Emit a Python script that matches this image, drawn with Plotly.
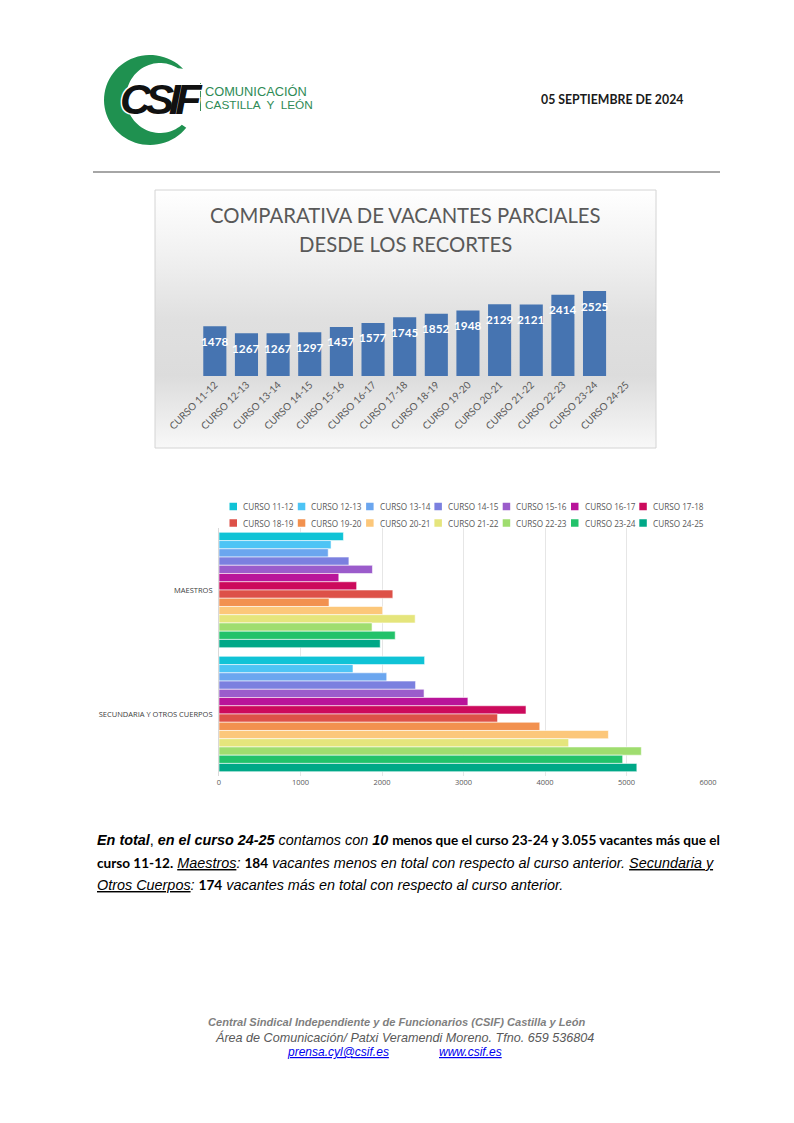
import numpy as np
import plotly.graph_objects as go

# ---------------- data ----------------
courses = ["CURSO 11-12", "CURSO 12-13", "CURSO 13-14", "CURSO 14-15", "CURSO 15-16",
           "CURSO 16-17", "CURSO 17-18", "CURSO 18-19", "CURSO 19-20", "CURSO 20-21",
           "CURSO 21-22", "CURSO 22-23", "CURSO 23-24", "CURSO 24-25"]
partial_vacancies = [1478, 1267, 1267, 1297, 1457, 1577, 1745, 1852, 1948, 2129, 2121, 2414, 2525, None]

groups = ["MAESTROS", "SECUNDARIA Y OTROS CUERPOS"]
maestros = [1527, 1375, 1340, 1594, 1883, 1470, 1689, 2133, 1350, 2008, 2407, 1878, 2162, 1978]
secundaria = [2523, 1644, 2058, 2412, 2516, 3054, 3767, 3418, 3936, 4778, 4290, 5182, 4953, 5127]

x_ticks = [0, 1000, 2000, 3000, 4000, 5000, 6000]

series_colors = ["#10c3d6", "#4dc4f5", "#6ba6ef", "#7b80df", "#9b5ccb", "#b9149a", "#cc0a5c",
                 "#dd5148", "#f2914f", "#fcc77a", "#e5e57c", "#9fdd6f", "#22c26a", "#00a887"]

W, H = 794, 1123


def dx(px):
    return px / W


def dy(py):
    return 1 - py / H


fig = go.Figure()

# background of the top chart (page pixel helper axis x/y)
fig.add_trace(go.Scatter(
    x=[155, 656, 656, 155, 155], y=[190, 190, 448, 448, 190],
    mode="lines", fill="toself",
    fillgradient=dict(type="vertical", start=190, stop=448,
                      colorscale=[[0, "#ffffff"], [0.25, "#f1f1f1"], [0.5, "#e0e0e0"],
                                  [0.72, "#dcdcdc"], [0.88, "#ececec"], [1, "#f8f8f8"]]),
    line=dict(color="#d4d4d4", width=1),
    hoverinfo="skip", showlegend=False, xaxis="x", yaxis="y"))

# ---------------- top chart ----------------
fig.add_trace(go.Bar(
    x=courses, y=partial_vacancies, width=0.73,
    marker=dict(color="#4674b1", line=dict(width=0)),
    xaxis="x2", yaxis="y2", showlegend=False, hoverinfo="skip"))

annotations = []
for c, v in zip(courses, partial_vacancies):
    if v is None:
        continue
    annotations.append(dict(
        x=c, y=v, xref="x2", yref="y2", yshift=-15, text=f"<b>{v}</b>", showarrow=False,
        font=dict(family="Lato, Open Sans, sans-serif", size=11.8, color="#ffffff")))

# ---------------- bottom chart ----------------
for i, name in enumerate(courses):
    fig.add_trace(go.Bar(
        y=groups, x=[maestros[i], secundaria[i]], orientation="h", name=name,
        marker=dict(color=series_colors[i], line=dict(color="rgba(255,255,255,0.7)", width=0.8)),
        xaxis="x3", yaxis="y3", showlegend=False, hoverinfo="skip"))

# manual legend (two rows of seven)
shapes = []
for i, name in enumerate(courses):
    row, col = divmod(i, 7)
    x0 = 229.5 + col * 68.3
    yc = 506.5 + row * 16.5
    shapes.append(dict(type="rect", xref="x", yref="y", x0=x0, x1=x0 + 7.5, y0=yc - 3.75, y1=yc + 3.75,
                       fillcolor=series_colors[i], line=dict(width=0)))
    annotations.append(dict(x=x0 + 11.5, y=yc, xref="x", yref="y", text=name, showarrow=False,
                            xanchor="left", yanchor="middle",
                            font=dict(family="Open Sans, sans-serif", size=8.2, color="#595959")))

# ---------------- page decorations ----------------
shapes.append(dict(type="line", xref="x", yref="y", x0=93, x1=720, y0=172, y1=172,
                   line=dict(color="#a6a6a6", width=2)))
shapes.append(dict(type="line", xref="x", yref="y", x0=200.5, x1=200.5, y0=83, y1=111,
                   line=dict(color="#3a8f5a", width=1)))
# green C of the logo
a_out = np.radians(np.linspace(-44, -322, 60))
a_in = np.radians(np.linspace(-310, -58, 60))
ox, oy = 150 + 46 * np.cos(a_out), 100 + 45 * np.sin(a_out)
ix, iy = 160 + 34 * np.cos(a_in), 98 + 35 * np.sin(a_in)
pts = list(zip(ox, oy)) + list(zip(ix, iy))
path = "M " + " L ".join(f"{px:.2f},{py:.2f}" for px, py in pts) + " Z"
shapes.append(dict(type="path", xref="x", yref="y", path=path, fillcolor="#1f9150",
                   line=dict(width=0), layer="above"))

WHITE_HALO = ("-1.2px -1.2px 0 #fff, 1.2px -1.2px 0 #fff, -1.2px 1.2px 0 #fff, 1.2px 1.2px 0 #fff")
annotations += [
    dict(x=118, y=99, xref="x", yref="y", xanchor="left",
         text="<b><i><span style='letter-spacing:-5.5px'>CSIF</span></i></b>", showarrow=False,
         font=dict(family="Liberation Sans, Arial, sans-serif", size=43, color="#111111",
                   shadow=WHITE_HALO)),
    dict(x=203, y=91, xref="x", yref="y", text="COMUNICACIÓN", showarrow=False, xanchor="left",
         font=dict(family="Liberation Sans, Arial, sans-serif", size=12.8, color="#2e8a55")),
    dict(x=203, y=105, xref="x", yref="y", text="CASTILLA  Y  LEÓN", showarrow=False, xanchor="left",
         font=dict(family="Liberation Sans, Arial, sans-serif", size=11.8, color="#2e8a55")),
    dict(x=539, y=99, xref="x", yref="y", text="<b>05 SEPTIEMBRE DE 2024</b>", showarrow=False,
         xanchor="left", font=dict(family="Lato, sans-serif", size=12.3, color="#1a1a1a")),
    dict(x=405, y=215, xref="x", yref="y", text="COMPARATIVA DE VACANTES PARCIALES", showarrow=False,
         font=dict(family="Lato, Open Sans, sans-serif", size=20.3, color="#595959")),
    dict(x=405, y=244, xref="x", yref="y", text="DESDE LOS RECORTES", showarrow=False,
         font=dict(family="Lato, Open Sans, sans-serif", size=20.3, color="#595959")),
]

CAL = "font-family:Lato;font-size:13.6px"
para = [
    ("<b><i>En total</i></b>, <b><i>en el curso 24-25</i></b> <i>contamos con</i> <b><i>10</i></b> "
     f"<span style='{CAL}'><b>menos que el curso 23-24 y 3.055 vacantes más que el</b></span>", 840),
    (f"<span style='{CAL}'><b>curso 11-12.</b></span> <i><u>Maestros</u>:</i> "
     f"<span style='{CAL}'><b>184</b></span> <i>vacantes menos en total con respecto al curso anterior.</i> "
     "<i><u>Secundaria y</u></i>", 863),
    (f"<i><u>Otros Cuerpos</u>:</i> <span style='{CAL}'><b>174</b></span> "
     "<i>vacantes más en total con respecto al curso anterior.</i>", 885),
]
for txt, yy in para:
    annotations.append(dict(x=95, y=yy, xref="x", yref="y", text=txt, showarrow=False, xanchor="left",
                            font=dict(family="Liberation Sans, Arial, sans-serif", size=14.4,
                                      color="#000000")))

annotations += [
    dict(x=396, y=1022, xref="x", yref="y",
         text="<b><i>Central Sindical Independiente y de Funcionarios (CSIF) Castilla y León</i></b>",
         showarrow=False, font=dict(family="Liberation Sans, Arial, sans-serif", size=11.1, color="#7f7f7f")),
    dict(x=404, y=1037, xref="x", yref="y",
         text="<i>Área de Comunicación/ Patxi Veramendi Moreno. Tfno. 659 536804</i>",
         showarrow=False, font=dict(family="Liberation Sans, Arial, sans-serif", size=12.6, color="#595959")),
    dict(x=338, y=1052, xref="x", yref="y", text="<i><u>prensa.cyl@csif.es</u></i>", showarrow=False,
         font=dict(family="Liberation Sans, Arial, sans-serif", size=12, color="#0000ee")),
    dict(x=470, y=1052, xref="x", yref="y", text="<i><u>www.csif.es</u></i>", showarrow=False,
         font=dict(family="Liberation Sans, Arial, sans-serif", size=12, color="#0000ee")),
]

fig.update_layout(
    width=W, height=H, autosize=False,
    margin=dict(l=0, r=0, t=0, b=0, pad=0, autoexpand=False),
    paper_bgcolor="#ffffff", plot_bgcolor="rgba(0,0,0,0)",
    barmode="group", bargap=0.07, bargroupgap=0.0,
    showlegend=False,
    xaxis=dict(domain=[0, 1], range=[0, W], visible=False, fixedrange=True, automargin=False),
    yaxis=dict(domain=[0, 1], range=[H, 0], visible=False, fixedrange=True, automargin=False),
    xaxis2=dict(domain=[dx(199), dx(642)], anchor="y2", type="category", automargin=False,
                categoryorder="array", categoryarray=courses, range=[-0.5, 13.5],
                tickangle=-45, showgrid=False, showline=False, zeroline=False, ticks="",
                tickfont=dict(family="Lato, Open Sans, sans-serif", size=10, color="#595959")),
    yaxis2=dict(domain=[dy(376), dy(291)], anchor="x2", range=[0, 2525], visible=False,
                automargin=False),
    xaxis3=dict(domain=[dx(219), dx(708)], anchor="y3", range=[0, 6000], tickvals=x_ticks,
                automargin=False,
                showgrid=True, gridcolor="#e6e6e6", gridwidth=1, zeroline=False, showline=False,
                ticks="", tickfont=dict(family="Open Sans, sans-serif", size=7.5, color="#595959")),
    yaxis3=dict(domain=[dy(776), dy(528)], anchor="x3", type="category", categoryarray=groups,
                categoryorder="array", autorange="reversed", showgrid=False, zeroline=False,
                automargin=False,
                showline=True, linecolor="#d9d9d9", ticks="", ticklabelstandoff=4,
                tickfont=dict(family="Open Sans, sans-serif", size=7.5, color="#404040")),
    shapes=shapes, annotations=annotations,
)

fig.write_html("out.html", config={"displayModeBar": False},
               post_script="document.body.style.margin='0';document.body.style.overflow='hidden';")
